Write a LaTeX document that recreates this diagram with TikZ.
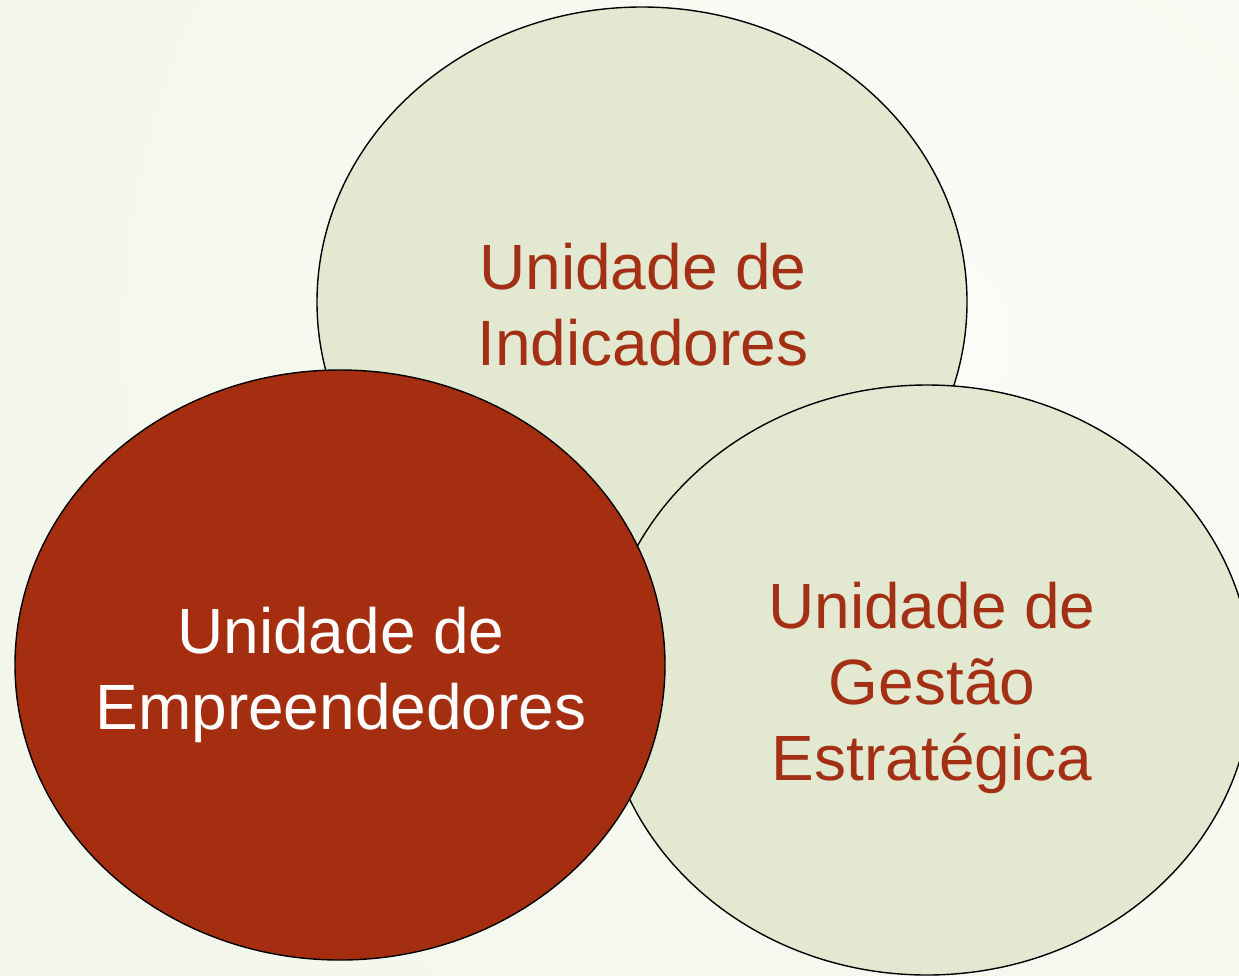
\documentclass[tikz,border=0pt]{standalone}
\usepackage{fontspec}
\setmainfont{Liberation Sans}
\usepackage{tikz}
\usetikzlibrary{shapes.geometric}
\definecolor{paleolive}{HTML}{E3E9D0}
\definecolor{rust}{HTML}{A52E10}
\definecolor{rusttext}{HTML}{A33014}
\definecolor{bgcentre}{HTML}{FBFCF8}
\definecolor{bgedge}{HTML}{E8EFD8}

\begin{document}
\begin{tikzpicture}[x=1pt, y=-1pt,
    unit/.style={ellipse, draw=black, line width=1.4pt, minimum width=650pt, minimum height=590pt, inner sep=0pt},
    unitlabel/.style={align=center, font=\fontsize{64}{76}\selectfont}]
    \useasboundingbox (0,0) rectangle (1239,975);
    \begin{scope}
      \clip (0,0) rectangle (1239,975);
      \shade[inner color=bgcentre, outer color=bgedge] (920,340) circle (2300);
    \end{scope}
    \node[unit, fill=paleolive] (indic) at (642,302) {};
    \node[unitlabel, text=rusttext] (indictext) at (643,305) {Unidade de\\Indicadores};
    \node[unit, fill=paleolive] (gestao) at (927,680) {};
    \node[unitlabel, text=rusttext] (gestaotext) at (932,688) {Unidade de\\Gestão\\Estratégica};
    \node[unit, fill=rust] (empre) at (340,665) {};
    \node[unitlabel, text=white] (empretext) at (341,675) {Unidade de\\Empreendedores};
  \end{tikzpicture}
\end{document}
